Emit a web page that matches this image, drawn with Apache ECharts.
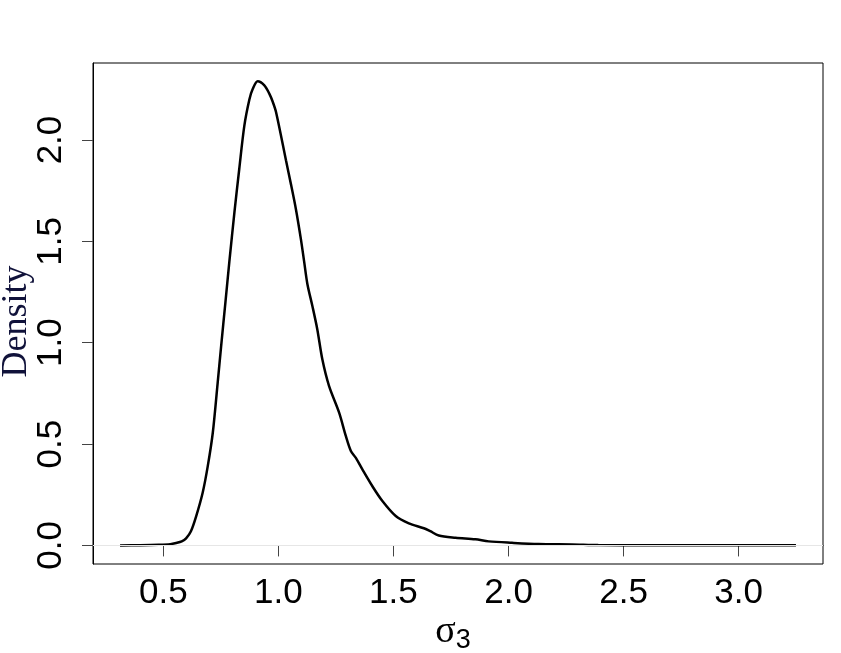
<!DOCTYPE html>
<html>
<head>
  <meta charset="UTF-8">
  <title>Density</title>
  <style>
    body { margin: 0; padding: 0; background: #fff; }
    #chart { width: 841px; height: 653px; }
  </style>
</head>
<body>
  <div id="chart"></div>
  <script src="https://cdn.jsdelivr.net/npm/echarts@6/dist/echarts.min.js"></script>
  <script>
    // density curve
    var sigmaX = [0.312, 0.40, 0.48, 0.53, 0.556, 0.58, 0.599, 0.62, 0.643, 0.671, 0.693, 0.715,
      0.736, 0.751, 0.77, 0.787, 0.809, 0.83, 0.852, 0.874, 0.888, 0.91, 0.939, 0.96, 0.975,
      0.99, 1.033, 1.055, 1.076, 1.098, 1.112, 1.126, 1.148, 1.169, 1.191, 1.22, 1.264, 1.293,
      1.315, 1.336, 1.365, 1.408, 1.452, 1.51, 1.567, 1.632, 1.66, 1.697, 1.77, 1.856, 1.914,
      2.015, 2.13, 2.275, 2.39, 2.6, 2.8, 3.0, 3.249];
    var densityY = [0.0, 0.001, 0.003, 0.006, 0.012, 0.02, 0.035, 0.07, 0.145, 0.26, 0.39, 0.556,
      0.80, 0.98, 1.2, 1.40, 1.643, 1.857, 2.07, 2.20, 2.25, 2.29, 2.27, 2.23, 2.19,
      2.137, 1.90, 1.78, 1.66, 1.51, 1.40, 1.29, 1.18, 1.067, 0.918, 0.787, 0.655, 0.54,
      0.466, 0.433, 0.375, 0.293, 0.219, 0.145, 0.109, 0.085, 0.07, 0.049, 0.038, 0.030, 0.020,
      0.013, 0.007, 0.005, 0.002, 0.001, 0.001, 0.0005, 0.0005];
    var xTicks = [0.5, 1.0, 1.5, 2.0, 2.5, 3.0];
    var yTicks = [0, 0.5, 1.0, 1.5, 2.0];

    var chart = echarts.init(document.getElementById('chart'));

    var points = sigmaX.map(function (x, i) { return [x, densityY[i]]; });

    var option = {
      animation: false,
      grid: {
        left: 93, right: 18, top: 63, bottom: 89,
        containLabel: false,
        outerBoundsMode: 'none',
        show: true, borderColor: '#000', borderWidth: 1
      },
      xAxis: {
        type: 'value',
        min: 0.1945,
        max: 3.3665,
        name: '{s|σ}{b|3}',
        nameLocation: 'middle',
        nameGap: 47,
        nameMoveOverlap: false,
        nameTextStyle: {
          padding: [0, 10, 0, 0],
          rich: {
            s: { fontFamily: 'Liberation Serif', fontSize: 38, color: '#000' },
            b: { fontFamily: 'Liberation Sans', fontSize: 27, color: '#000', padding: [16, 0, 0, 0] }
          }
        },
        axisLine: { show: true, lineStyle: { color: '#000', width: 1 } },
        axisTick: { show: true, length: 11, customValues: xTicks, lineStyle: { color: '#444' } },
        axisLabel: {
          customValues: xTicks,
          margin: 12,
          fontFamily: 'Liberation Sans',
          fontSize: 35,
          color: '#000',
          formatter: function (v) { return v.toFixed(1); }
        },
        splitLine: { show: false }
      },
      yAxis: {
        type: 'value',
        min: -0.0916,
        max: 2.38,
        name: 'Density',
        nameLocation: 'middle',
        nameGap: 58,
        nameMoveOverlap: false,
        nameRotate: 90,
        nameTextStyle: {
          fontFamily: 'Liberation Serif', fontSize: 36, color: '#10123a',
          padding: [0, 16, 0, 0]
        },
        axisLine: { show: true, lineStyle: { color: '#000', width: 1 } },
        axisTick: { show: true, length: 11, customValues: yTicks, lineStyle: { color: '#444' } },
        axisLabel: {
          customValues: yTicks,
          rotate: 90,
          margin: 24,
          fontFamily: 'Liberation Sans',
          fontSize: 35,
          color: '#000',
          formatter: function (v) { return v.toFixed(1); }
        },
        splitLine: { show: false }
      },
      series: [{
        type: 'line',
        data: points,
        showSymbol: false,
        smooth: 0.3,
        lineStyle: { color: '#000', width: 2.5 },
        markLine: {
          silent: true,
          symbol: 'none',
          label: { show: false },
          lineStyle: { color: '#e6e6e6', width: 1, type: 'solid' },
          data: [{ yAxis: 0 }]
        }
      }]
    };

    chart.setOption(option);
  </script>
</body>
</html>
